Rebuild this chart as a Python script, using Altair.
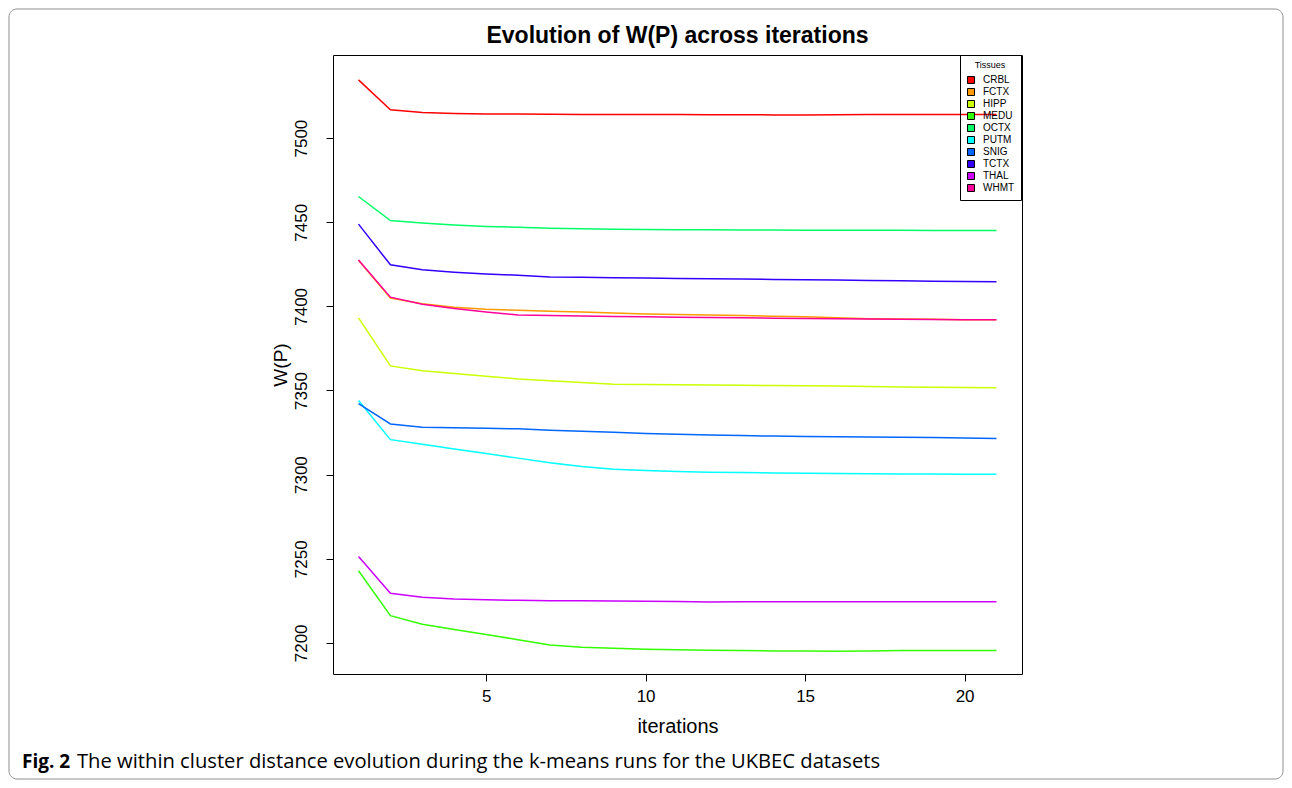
import altair as alt
import pandas as pd

iterations = list(range(1, 22))
tissues = ["CRBL", "FCTX", "HIPP", "MEDU", "OCTX", "PUTM", "SNIG", "TCTX", "THAL", "WHMT"]
colors = ["#FF0000", "#FF9900", "#CCFF00", "#33FF00", "#00FF66",
          "#00FFFF", "#0066FF", "#3300FF", "#CC00FF", "#FF0099"]

CRBL = [7534.6, 7516.8, 7515.2, 7514.6, 7514.4, 7514.3, 7514.2, 7514.1, 7514.1, 7514.0, 7514.0,
        7513.9, 7513.9, 7513.8, 7513.8, 7513.9, 7514.0, 7514.0, 7514.0, 7514.0, 7514.0]
FCTX = [7427.4, 7404.9, 7401.5, 7399.5, 7398.3, 7397.7, 7397.1, 7396.6, 7396.0, 7395.5, 7395.2,
        7394.9, 7394.5, 7394.2, 7393.9, 7393.3, 7392.7, 7392.5, 7392.3, 7392.1, 7392.0]
HIPP = [7393.2, 7364.6, 7361.7, 7360.1, 7358.5, 7356.9, 7355.8, 7354.7, 7353.7, 7353.5, 7353.4,
        7353.3, 7353.1, 7353.0, 7352.8, 7352.6, 7352.4, 7352.1, 7351.9, 7351.8, 7351.7]
MEDU = [7242.9, 7216.2, 7211.1, 7208.0, 7205.0, 7201.9, 7198.8, 7197.4, 7196.8, 7196.2, 7195.9,
        7195.6, 7195.4, 7195.2, 7195.1, 7195.0, 7195.2, 7195.4, 7195.4, 7195.4, 7195.4]
OCTX = [7465.3, 7451.0, 7449.5, 7448.4, 7447.5, 7447.0, 7446.5, 7446.2, 7445.9, 7445.7, 7445.6,
        7445.5, 7445.4, 7445.4, 7445.3, 7445.3, 7445.2, 7445.2, 7445.1, 7445.1, 7445.1]
PUTM = [7344.0, 7320.8, 7318.0, 7315.2, 7312.5, 7309.8, 7307.1, 7304.8, 7303.2, 7302.4, 7301.9,
        7301.4, 7301.2, 7301.0, 7300.8, 7300.6, 7300.5, 7300.4, 7300.3, 7300.2, 7300.2]
SNIG = [7342.2, 7330.1, 7328.2, 7327.8, 7327.6, 7327.2, 7326.4, 7325.8, 7325.2, 7324.5, 7324.0,
        7323.5, 7323.2, 7322.9, 7322.6, 7322.5, 7322.3, 7322.2, 7322.0, 7321.7, 7321.4]
TCTX = [7448.9, 7424.7, 7421.7, 7420.3, 7419.3, 7418.5, 7417.5, 7417.3, 7417.0, 7416.8, 7416.6,
        7416.4, 7416.2, 7416.0, 7415.8, 7415.6, 7415.4, 7415.2, 7415.0, 7414.8, 7414.6]
THAL = [7251.3, 7229.5, 7227.1, 7226.1, 7225.6, 7225.3, 7225.1, 7225.0, 7224.9, 7224.8, 7224.6,
        7224.3, 7224.4, 7224.5, 7224.5, 7224.5, 7224.5, 7224.5, 7224.5, 7224.5, 7224.5]
WHMT = [7427.6, 7405.5, 7401.3, 7398.7, 7396.7, 7394.9, 7394.5, 7394.3, 7394.0, 7393.8, 7393.6,
        7393.4, 7393.2, 7393.0, 7392.8, 7392.6, 7392.5, 7392.3, 7392.2, 7392.1, 7392.0]

series = [CRBL, FCTX, HIPP, MEDU, OCTX, PUTM, SNIG, TCTX, THAL, WHMT]
x_ticks = [5, 10, 15, 20]
y_ticks = [7200, 7250, 7300, 7350, 7400, 7450, 7500]

title_text = "Evolution of W(P) across iterations"
caption_bold = "Fig. 2"
caption_text = "The within cluster distance evolution during the k-means runs for the UKBEC datasets"

rows = []
for t, vals in zip(tissues, series):
    for i, v in zip(iterations, vals):
        rows.append({"iteration": i, "wp": v, "tissue": t})
df = pd.DataFrame(rows)

FONT = "Liberation Sans"

x_enc = alt.X("iteration:Q",
              scale=alt.Scale(domain=[0.2, 21.8], nice=False, zero=False),
              axis=alt.Axis(values=x_ticks, title="iterations", grid=False, domain=False,
                            tickSize=7, tickColor="black", labelColor="black",
                            labelFontSize=17, labelFont=FONT, labelPadding=7,
                            titleFont=FONT, titleFontSize=20, titleFontWeight="normal",
                            titleColor="black", titlePadding=12))
y_enc = alt.Y("wp:Q",
              scale=alt.Scale(domain=[7181.5, 7549.4], nice=False, zero=False),
              axis=alt.Axis(values=y_ticks, format="d", title="W(P)", grid=False, domain=False,
                            tickSize=7, tickColor="black", labelColor="black",
                            labelFontSize=17, labelFont=FONT, labelAngle=270,
                            labelAlign="center", labelBaseline="bottom", labelPadding=16,
                            titleFont=FONT, titleFontSize=19, titleFontWeight="normal",
                            titleColor="black", titlePadding=2))

lines = alt.Chart(df).mark_line(strokeWidth=1.5).encode(
    x=x_enc, y=y_enc,
    stroke=alt.Stroke("tissue:N", scale=alt.Scale(domain=tissues, range=colors), legend=None),
)

legend_pts = alt.Chart(df).mark_point(shape="square", filled=True, opacity=0).encode(
    x="iteration:Q", y="wp:Q",
    fill=alt.Fill("tissue:N", scale=alt.Scale(domain=tissues, range=colors),
                  legend=alt.Legend(title="Tissues", orient="none", legendX=627, legendY=0,
                                    strokeColor="black", padding=6, symbolType="square",
                                    symbolSize=49, symbolStrokeColor="black",
                                    symbolStrokeWidth=1, symbolOpacity=1,
                                    labelFontSize=10, labelFont=FONT, labelColor="black",
                                    titleFontSize=9, titleFont=FONT, titleFontWeight="normal",
                                    titleColor="black", titleAnchor="middle",
                                    rowPadding=0, titlePadding=5, labelOffset=7)),
)

frame_df = pd.DataFrame({"k": [0]})
frame = alt.Chart(frame_df).mark_rect(fill="transparent", stroke="#8f8f8f", strokeWidth=1,
                                       cornerRadius=8).encode(
    x=alt.value(-324), x2=alt.value(950), y=alt.value(-46), y2=alt.value(724))

title_mark = alt.Chart(pd.DataFrame({"t": [title_text]})).mark_text(
    align="center", baseline="alphabetic", font=FONT, fontSize=23, fontWeight="bold",
    color="black").encode(text="t:N", x=alt.value(344.5), y=alt.value(-12))

cap1 = alt.Chart(pd.DataFrame({"t": [caption_bold]})).mark_text(
    align="left", baseline="alphabetic", font="Open Sans", fontSize=19, fontWeight="bold",
    color="black").encode(text="t:N", x=alt.value(-311), y=alt.value(713))
cap2 = alt.Chart(pd.DataFrame({"t": [caption_text]})).mark_text(
    align="left", baseline="alphabetic", font="Open Sans", fontSize=20.2, color="black").encode(
    text="t:N", x=alt.value(-256), y=alt.value(713))

chart = alt.layer(frame, lines, legend_pts, title_mark, cap1, cap2).resolve_scale(
    stroke="independent", fill="independent"
).properties(
    width=689, height=619,
    padding={"left": 325, "top": 47, "right": 262, "bottom": 106},
    autosize=alt.AutoSizeParams(type="none"),
    background="white",
).configure_view(stroke="black", strokeWidth=1)

chart.save("out.html", embed_options={"renderer": "svg", "actions": False})
